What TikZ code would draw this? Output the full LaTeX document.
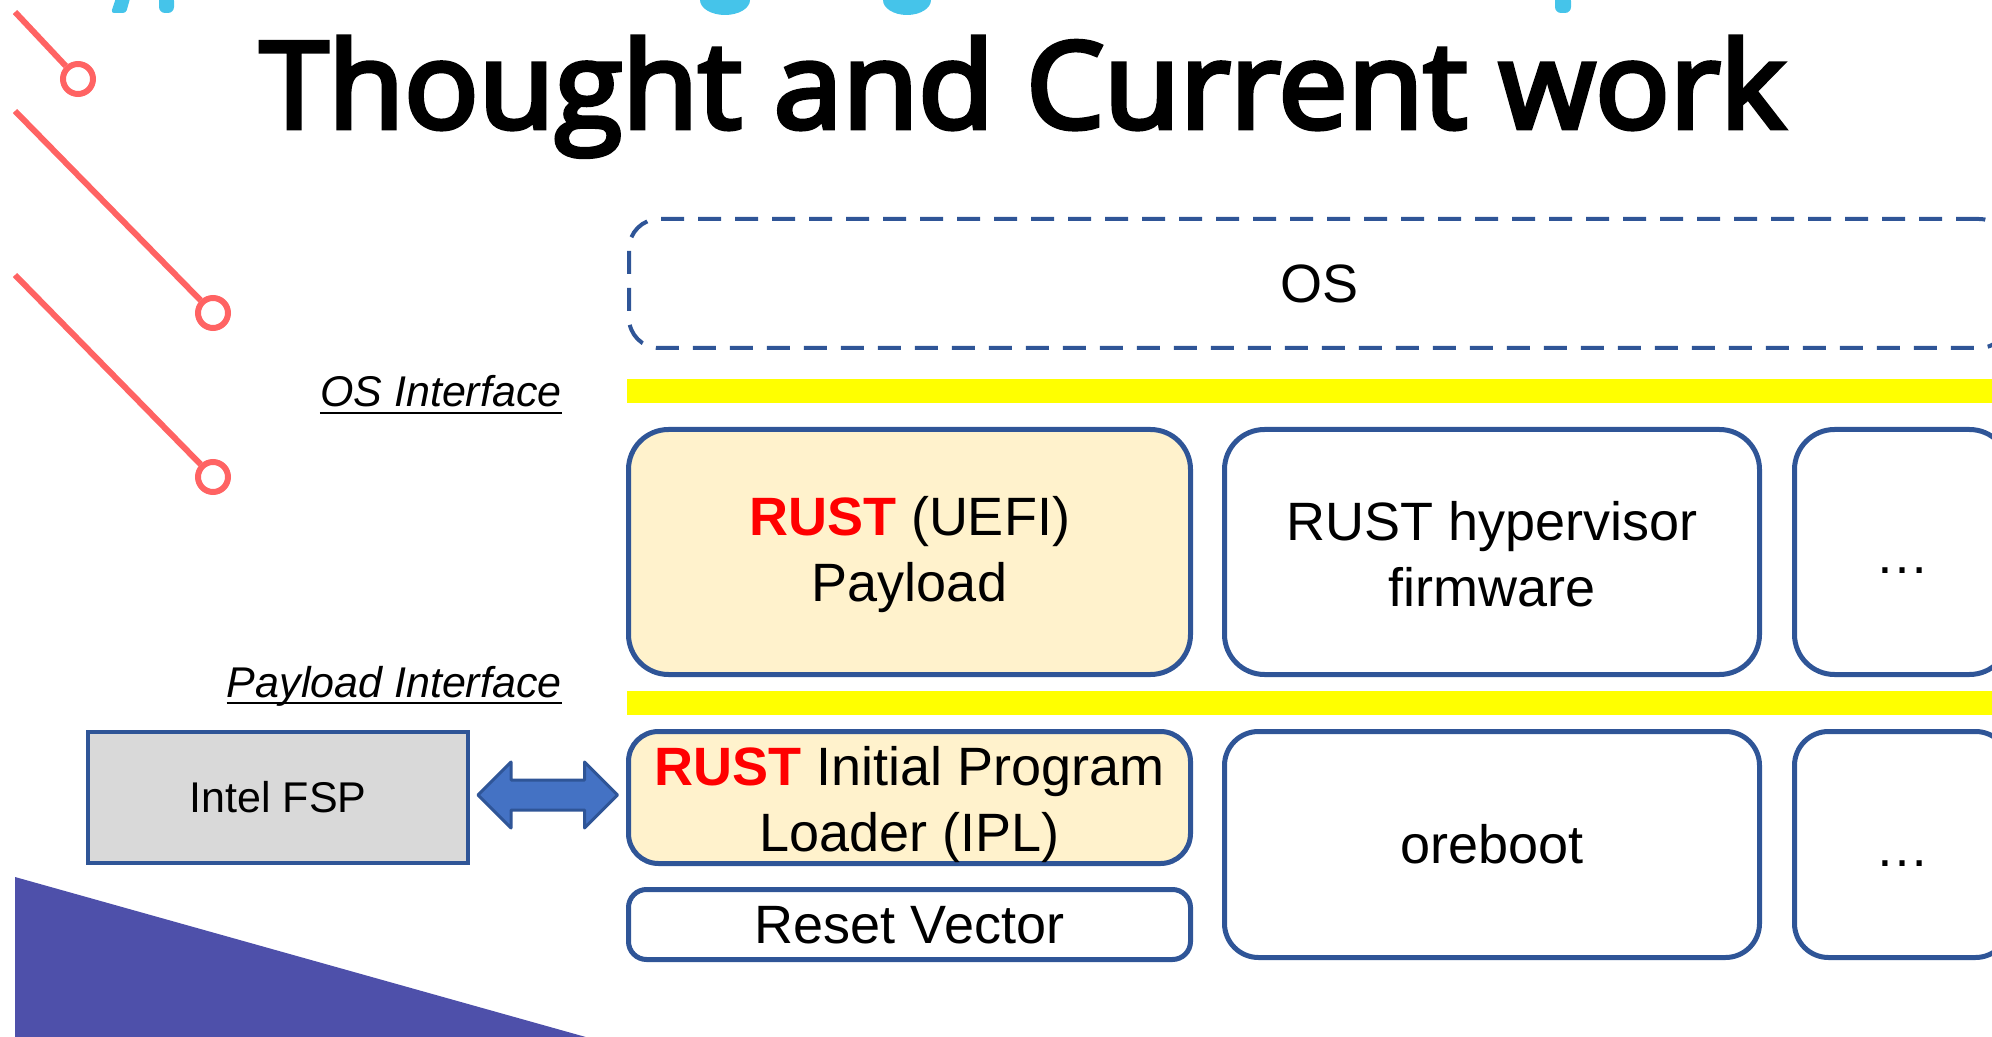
\documentclass[tikz,border=0pt]{standalone}
\usepackage{fontspec}
\setmainfont{Liberation Sans}
\newfontfamily\titlefont{Open Sans}[FakeBold=4]
\usetikzlibrary{calc}
\definecolor{boxblue}{RGB}{47,85,151}
\definecolor{payfill}{RGB}{255,242,204}
\definecolor{hl}{RGB}{255,255,0}
\definecolor{deco}{RGB}{255,99,99}
\definecolor{purp}{RGB}{78,80,170}
\definecolor{cyanT}{RGB}{69,196,234}
\definecolor{fspgray}{RGB}{217,217,217}
\definecolor{arrowblue}{RGB}{68,114,196}
\definecolor{rustred}{RGB}{255,0,0}
\newcommand\lowr[2]{\raisebox{-#1}[\height][\depth]{#2}}
\newcommand\rust{{\color{rustred}\bfseries RUST}}
\begin{document}
\begin{tikzpicture}[x=0.5pt,y=-0.5pt,
  blk/.style={draw=boxblue, line width=2.5pt, inner sep=0pt, align=center,
    font=\fontsize{27}{33}\selectfont},
  ring/.style={circle, draw=deco, line width=3pt, minimum size=15pt, inner sep=0pt},
  decoline/.style={draw=deco, line width=3pt},
  iflabel/.style={anchor=base east, inner sep=0pt, font=\itshape\fontsize{21.5}{25}\selectfont},
  ifline/.style={line width=1.1pt},
  ybar/.style={fill=hl}
]
\useasboundingbox (0,0) rectangle (1992,1037);
\clip (0,0) rectangle (1992,1037);

% purple corner
\fill[purp] (15,877) -- (600,1041) -- (15,1041) -- cycle;

% red decorations
\node[ring] (r1) at (78,79) {};
\node[ring] (r2) at (213,313) {};
\node[ring] (r3) at (213,477) {};
\coordinate (s1) at (15,12);
\coordinate (s2) at (15,111);
\coordinate (s3) at (15,275);
\draw[decoline] (s1) -- (r1);
\draw[decoline] (s2) -- (r2);
\draw[decoline] (s3) -- (r3);

% cut-off cyan heading fragments
\fill[cyanT, rounded corners=1.5pt] (117,-5) -- (131,-5) -- (126,13) -- (111,13) -- cycle;
\fill[cyanT, rounded corners=3pt] (159,-5) rectangle (174,13);
\fill[cyanT] (725,0) ellipse [x radius=12.5pt, y radius=7.5pt];
\fill[cyanT] (907,0) ellipse [x radius=12pt, y radius=7.5pt];
\fill[cyanT, rounded corners=3pt] (1555,-5) rectangle (1571,13);

% title
\node[font=\titlefont\fontsize{60}{72}\selectfont, anchor=base, inner sep=0pt] (title) at (1022.5,128)
  {\resizebox{762.5pt}{\height}{Thought and Current work}};

% interface bars
\fill[ybar] (627,379) rectangle (2000,403);
\fill[ybar] (627,691) rectangle (2000,715);

% labels
\node[iflabel] (osif) at (562,407) {OS Interface};
\draw[ifline] ([yshift=-3pt]osif.base west) -- ([yshift=-3pt]osif.base east);
\node[iflabel] (plif) at (562,697) {Payload Interface};
\draw[ifline] ([yshift=-3pt]plif.base west) -- ([yshift=-3pt]plif.base east);

% boxes
\node[blk, line width=2pt, dash pattern=on 11.5pt off 7pt, rounded corners=15pt,
  minimum width=690pt, minimum height=64.5pt] (os) at (1319,283.5) {OS};
\node[blk, fill=payfill, rounded corners=20pt, minimum width=281pt, minimum height=122.5pt]
  (payload) at (909.5,552) {\lowr{1.5pt}{\rust{} (UEFI)}\\\lowr{1.5pt}{Payload}};
\node[blk, rounded corners=20pt, minimum width=267.5pt, minimum height=122.5pt]
  (hyp) at (1492,552) {\lowr{1pt}{RUST hypervisor}\\\lowr{1pt}{firmware}};
\node[blk, rounded corners=20pt, minimum width=107.5pt, minimum height=122.5pt]
  (dots1) at (1902,552) {\lowr{9.5pt}{…}};
\node[blk, fill=payfill, rounded corners=15pt, minimum width=281pt, minimum height=66pt]
  (ipl) at (909.5,797.5) {\lowr{3.5pt}{\rust{} Initial Program}\\\lowr{3.5pt}{Loader (IPL)}};
\node[blk, rounded corners=9pt, minimum width=281pt, minimum height=35pt]
  (reset) at (909.5,924.5) {\lowr{0.5pt}{Reset Vector}};
\node[blk, rounded corners=17pt, minimum width=267.5pt, minimum height=113pt]
  (oreboot) at (1492,844.5) {oreboot};
\node[blk, rounded corners=17pt, minimum width=107.5pt, minimum height=113pt]
  (dots2) at (1902,844.5) {\lowr{9.5pt}{…}};
\node[draw=boxblue, fill=fspgray, line width=2pt, inner sep=0pt, minimum width=190pt,
  minimum height=65.5pt, font=\fontsize{21.5}{25}\selectfont] (fsp) at (278,797.5) {Intel FSP};

% double arrow between FSP and IPL
\coordinate (al) at ($(fsp.east)+(8,-2.5)$);
\coordinate (ar) at ($(ipl.west)+(-8.5,-2.5)$);
\filldraw[fill=arrowblue, draw=boxblue, line width=1.5pt, line join=round]
  (al) -- ++(33,-33) -- ++(0,18) -- ($(ar)+(-33,-15)$) -- ++(0,-18) -- (ar)
  -- ++(-33,33) -- ++(0,-18) -- ($(al)+(33,15)$) -- ++(0,18) -- cycle;
\end{tikzpicture}
\end{document}
